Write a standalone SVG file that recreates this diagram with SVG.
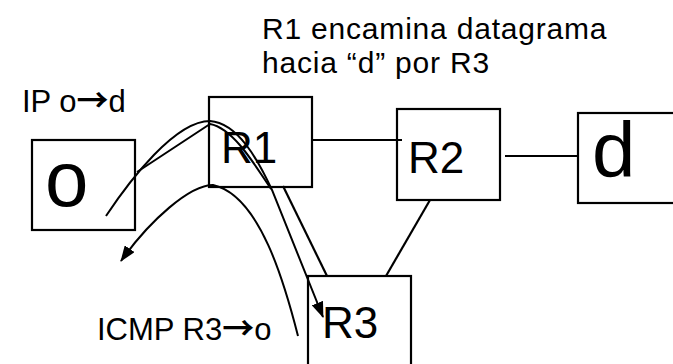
<svg xmlns="http://www.w3.org/2000/svg" width="673" height="364" viewBox="0 0 673 364">
<style>
.box{fill:#fff;stroke:#000;stroke-width:2.2}
.lnk{fill:none;stroke:#000;stroke-width:2.2}
.cur{fill:none;stroke:#000;stroke-width:2}
.t{font-family:"Liberation Sans",Arial,sans-serif;fill:#000}
.lbl{font-size:31px}
.note{font-size:30px;letter-spacing:0.8px}
.arr{font-family:"Noto Sans CJK SC","DejaVu Sans",sans-serif;font-weight:bold;font-size:32px}
.big{font-size:44px}
.huge{font-size:78px}
</style>
<defs>
<marker id="ah" markerUnits="userSpaceOnUse" markerWidth="16" markerHeight="12" refX="15" refY="6" orient="auto">
<path d="M0,0 L16,6 L0,12 z" fill="#000"/>
</marker>
</defs>
<rect width="673" height="364" fill="#fff"/>
<g id="node-o"><rect class="box" x="32" y="140" width="103" height="90"/><text class="t huge" x="45" y="206">o</text></g>
<g id="node-R1"><rect class="box" x="209" y="97" width="103" height="90"/><text class="t big" x="221" y="163">R1</text></g>
<g id="node-R2"><rect class="box" x="397" y="109" width="103" height="91"/><text class="t big" x="408" y="173">R2</text></g>
<g id="node-d"><rect class="box" x="578" y="113" width="103" height="90"/><text class="t huge" x="592" y="177">d</text></g>
<g id="node-R3"><rect class="box" x="308" y="276" width="103" height="92"/><text class="t big" x="322" y="338">R3</text></g>
<g id="connectors">
<line class="lnk" x1="312" y1="140" x2="402" y2="140"/>
<line class="lnk" x1="505" y1="156" x2="578" y2="156"/>
<line class="lnk" x1="430" y1="200" x2="386" y2="276"/>
<line class="lnk" x1="283" y1="186" x2="327" y2="276"/>
<path class="cur" d="M106,216 C130,180 175,121 210,121 C238,123 258,160 272,190 L323,317" marker-end="url(#ah)"/>
<path class="cur" d="M137,172 L210,124 C232,128 252,160 271,189"/>
<path class="cur" d="M298,336 C285,285 260,195 213,185 C190,185 150,220 121,261" marker-end="url(#ah)"/>
</g>
<g id="labels">
<text class="t note"><tspan x="262" y="39">R1 encamina datagrama</tspan><tspan x="262" y="73">hacia “d” por R3</tspan></text>
<text class="t lbl" x="22" y="112">IP o<tspan class="arr">→</tspan>d</text>
<text class="t lbl" x="97" y="340">ICMP R3<tspan class="arr">→</tspan>o</text>
</g>
</svg>
